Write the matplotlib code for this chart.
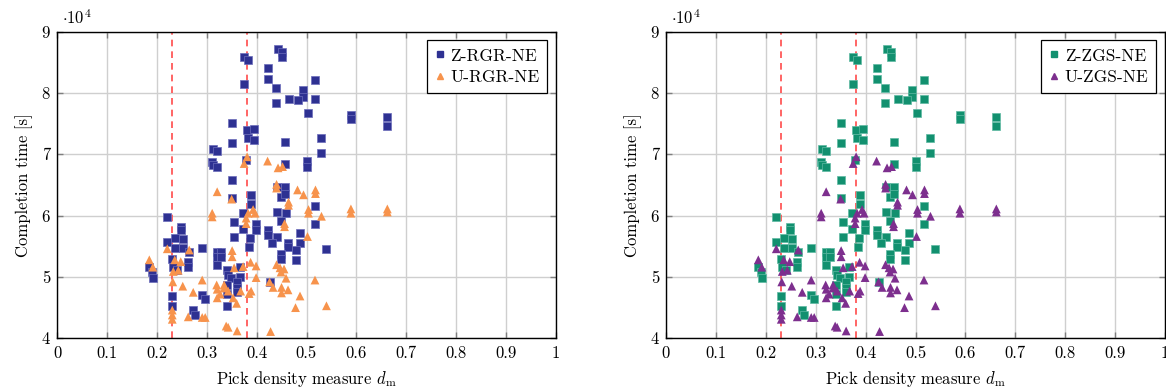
import matplotlib
matplotlib.use("Agg")
import matplotlib.pyplot as plt
from matplotlib.lines import Line2D

plt.rcParams["font.family"] = ["cmr10", "DejaVu Serif"]
plt.rcParams["mathtext.fontset"] = "cm"
plt.rcParams["axes.formatter.use_mathtext"] = True
plt.rcParams["font.size"] = 12

# ---- data -------------------------------------------------------------
z_rgr_x = [0.375, 0.383, 0.375, 0.350, 0.381, 0.395, 0.422, 0.422, 0.443, 0.450,
           0.450, 0.439, 0.518, 0.492, 0.492, 0.439, 0.464, 0.482, 0.518, 0.504,
           0.589, 0.589, 0.662, 0.662, 0.530, 0.456, 0.530, 0.456, 0.502, 0.502,
           0.440, 0.456, 0.448, 0.457, 0.517, 0.440, 0.458, 0.448, 0.517, 0.487,
           0.423, 0.423, 0.440, 0.350, 0.383, 0.395, 0.313, 0.321, 0.310, 0.312,
           0.321, 0.379, 0.351, 0.389, 0.351, 0.389, 0.373, 0.221, 0.248, 0.248,
           0.355, 0.373, 0.398, 0.398, 0.236, 0.252, 0.355, 0.387, 0.221, 0.236,
           0.252, 0.265, 0.290, 0.321, 0.329, 0.321, 0.329, 0.321, 0.385, 0.230,
           0.262, 0.262, 0.233, 0.240, 0.185, 0.190, 0.192, 0.341, 0.343, 0.348,
           0.367, 0.367, 0.360, 0.360, 0.360, 0.340, 0.341, 0.341, 0.231, 0.231,
           0.290, 0.297, 0.273, 0.277, 0.431, 0.462, 0.462, 0.487, 0.478, 0.449,
           0.449, 0.478, 0.540, 0.427]
z_rgr_y = [85900, 85400, 81500, 75100, 73900, 74200, 84100, 82300, 87200, 86700,
           85900, 80900, 82100, 80500, 79400, 78400, 79000, 78900, 79100, 76800,
           76400, 75800, 76100, 74700, 72700, 72000, 70200, 68400, 68900, 67900,
           64700, 64700, 63100, 63500, 61500, 60600, 60500, 59200, 58600, 57200,
           57700, 56800, 56600, 71800, 72600, 72300, 70900, 70500, 68800, 68300,
           67900, 69100, 65800, 63400, 62800, 61900, 60400, 59800, 58200, 57700,
           58900, 57800, 58600, 57700, 56300, 56200, 56500, 56300, 55700, 54800,
           54800, 54000, 54700, 54100, 54100, 53300, 53300, 51900, 54900, 53000,
           52500, 51700, 51700, 51100, 51700, 50800, 49900, 51100, 50300, 49800,
           51700, 50000, 49200, 48200, 47600, 48700, 47300, 45300, 46900, 45300,
           47000, 46400, 44600, 43800, 55500, 55600, 54900, 55500, 54400, 53800,
           52900, 52800, 54500, 49200]

u_rgr_x = [0.381, 0.375, 0.422, 0.443, 0.452, 0.440, 0.440, 0.321, 0.350, 0.482,
           0.494, 0.518, 0.518, 0.464, 0.464, 0.311, 0.311, 0.383, 0.393, 0.397,
           0.379, 0.379, 0.504, 0.504, 0.530, 0.589, 0.589, 0.662, 0.662, 0.456,
           0.456, 0.502, 0.221, 0.265, 0.351, 0.351, 0.185, 0.192, 0.236, 0.248,
           0.243, 0.233, 0.355, 0.373, 0.388, 0.399, 0.399, 0.440, 0.447, 0.455,
           0.449, 0.459, 0.426, 0.433, 0.450, 0.450, 0.463, 0.487, 0.517, 0.478,
           0.540, 0.232, 0.252, 0.291, 0.273, 0.320, 0.321, 0.335, 0.335, 0.343,
           0.327, 0.321, 0.353, 0.368, 0.360, 0.389, 0.385, 0.231, 0.231, 0.231,
           0.263, 0.291, 0.297, 0.339, 0.343, 0.361, 0.428]
u_rgr_y = [69600, 68500, 68900, 67800, 68000, 65100, 64500, 63900, 62700, 64200,
           63400, 64200, 63600, 62200, 61700, 60400, 59800, 60400, 61000, 60400,
           59600, 58700, 61000, 60400, 59900, 61100, 60400, 61100, 60600, 58700,
           58200, 56600, 54600, 54400, 54300, 53300, 52800, 51600, 52800, 52500,
           51100, 50900, 51500, 51700, 52400, 51800, 49900, 52000, 51500, 51300,
           50800, 49800, 49200, 48300, 48300, 47400, 47900, 46900, 49500, 45000,
           45300, 49200, 48500, 49500, 47500, 48700, 48000, 48700, 48200, 47700,
           47200, 46600, 46600, 47700, 45700, 47700, 47300, 44600, 43800, 43100,
           43500, 43400, 43400, 42000, 41800, 41200, 41100]

z_zgs_x = list(z_rgr_x)
z_zgs_y = list(z_rgr_y)
u_zgs_x = list(u_rgr_x)
u_zgs_y = list(u_rgr_y)

density_bounds = [0.23, 0.38]

x_ticks = [0, 0.1, 0.2, 0.3, 0.4, 0.5, 0.6, 0.7, 0.8, 0.9, 1]
x_tick_labels = ["0", "0.1", "0.2", "0.3", "0.4", "0.5", "0.6", "0.7", "0.8", "0.9", "1"]
y_ticks = [40000, 50000, 60000, 70000, 80000, 90000]
y_tick_labels = ["4", "5", "6", "7", "8", "9"]

panels = [
    ("Z-RGR-NE", z_rgr_x, z_rgr_y, "#2e3192", "#6b6dbb", "U-RGR-NE", u_rgr_x, u_rgr_y, "#f7934c"),
    ("Z-ZGS-NE", z_zgs_x, z_zgs_y, "#12906f", "#5fb9a3", "U-ZGS-NE", u_zgs_x, u_zgs_y, "#7d2f8e"),
]

# ---- figure -----------------------------------------------------------
W, H = 1166, 389
fig = plt.figure(figsize=(W / 100, H / 100), dpi=100)
ax_left_px = [57, 666]
ax_w_px = 499
ax_top_px, ax_bot_px = 31.7, 338.3

for (zn, zx, zy, zc, ze, un, ux, uy, uc), lpx in zip(panels, ax_left_px):
    ax = fig.add_axes([lpx / W, (H - ax_bot_px) / H, ax_w_px / W, (ax_bot_px - ax_top_px) / H])
    ax.set_xlim(0, 1)
    ax.set_ylim(40000, 90000)
    ax.grid(True, color="#cfcfcf", linewidth=1.0, zorder=0)
    ax.set_axisbelow(True)

    for xb in density_bounds:
        ax.axvline(xb, color="#ff4a4a", linewidth=1.2, dashes=(4, 3), zorder=1)

    ax.scatter(zx, zy, marker="s", s=40, color=zc, edgecolors=ze, linewidths=0.5, zorder=3)
    ax.scatter(ux, uy, marker="^", s=40, color=uc, edgecolors="none", zorder=3)

    ax.set_xticks(x_ticks)
    ax.set_xticklabels(x_tick_labels)
    ax.set_yticks(y_ticks)
    ax.set_yticklabels(y_tick_labels)
    ax.tick_params(direction="in", length=4, width=1, color="#7f7f7f",
                   top=True, right=True, labelsize=12, pad=5)
    for sp in ax.spines.values():
        sp.set_linewidth(1.0)
        sp.set_color("black")

    ax.set_xlabel(r"Pick density measure $d_\mathrm{m}$", fontsize=12, labelpad=6)
    ax.set_ylabel("Completion time [s]", fontsize=12, labelpad=6)
    ax.text(0.01, 1.015, r"$\cdot 10^{4}$", transform=ax.transAxes, fontsize=12,
            ha="left", va="bottom")

    handles = [
        Line2D([], [], linestyle="none", marker="s", markersize=5, color=zc),
        Line2D([], [], linestyle="none", marker="^", markersize=5, color=uc),
    ]
    leg = ax.legend(handles, [zn, un], loc="upper right", frameon=True, fancybox=False,
                    framealpha=1, edgecolor="black", fontsize=12.5, handlelength=0.6,
                    handletextpad=0.3, borderpad=0.45, labelspacing=0.35,
                    borderaxespad=0.5)
    leg.get_frame().set_linewidth(0.9)

fig.savefig("out.png", dpi=100)
